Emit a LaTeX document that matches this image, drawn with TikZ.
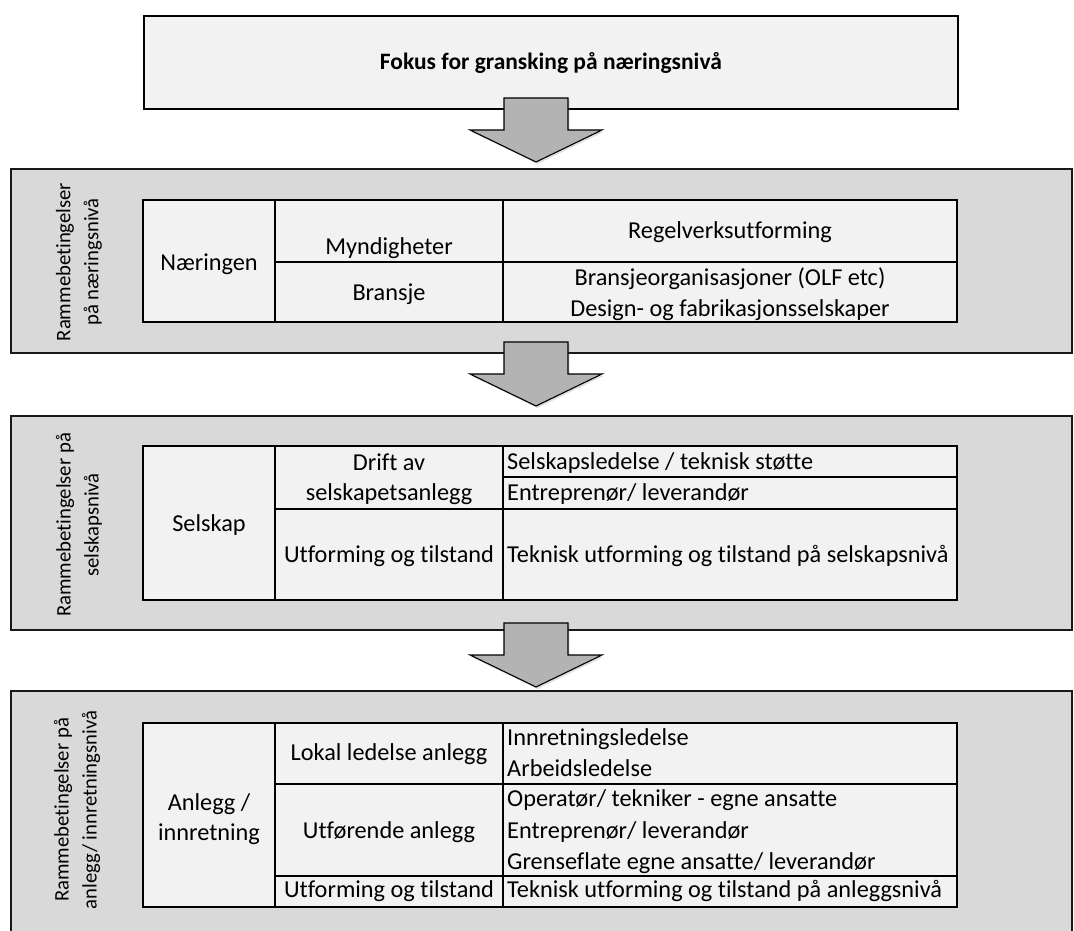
\documentclass[tikz,border=0pt]{standalone}
\usepackage{fontspec}
\setmainfont{Carlito}[Ligatures=NoCommon]
\usetikzlibrary{shadows}
\definecolor{panelgray}{HTML}{D9D9D9}
\definecolor{cellgray}{HTML}{F2F2F2}
\definecolor{arrowgray}{HTML}{B3B3B3}
\begin{document}
\begin{tikzpicture}[x=1pt,y=-1pt,
  panel/.style={fill=panelgray},
  panelline/.style={draw=black!90, line width=1.8pt},
  grid/.style={draw=black, line width=1.8pt},
  cellfill/.style={fill=cellgray},
  txt/.style={inner sep=0pt, anchor=base, font=\fontsize{24.3}{29}\selectfont},
  ltxt/.style={txt, anchor=base west},
  side/.style={inner sep=0pt, rotate=90, align=center, font=\fontsize{20.7}{28}\selectfont},
  downarrow/.pic={
    \path[fill=arrowgray, draw=black, line width=1.1pt,
      drop shadow={opacity=0.25, shadow xshift=1.5pt, shadow yshift=-2pt}]
      (-32,-64) -- (32,-64) -- (32,-32) -- (66,-32) -- (0,0)
      -- (-66,-32) -- (-32,-32) -- cycle;
  }]
\useasboundingbox (0,0) rectangle (1074,931);

% ---- heading box ----
\node[draw=black, line width=1.8pt, fill=cellgray, minimum width=814pt,
  minimum height=93pt, anchor=north west, inner sep=0pt] (head) at (143,15) {};
\node[inner sep=0pt, anchor=base, font=\fontsize{23.5}{28}\selectfont\bfseries]
  (headtxt) at (head.center) [yshift=-7pt] {Fokus for gransking på næringsnivå};

% ---- level 1: industry ----
\fill[panel] (11,169) rectangle (1072,353);
\draw[panelline] (11,169) rectangle (1072,353);
\fill[cellfill] (143,200) rectangle (957,322);
\draw[grid] (143,200) rectangle (957,322);
\draw[grid] (275,200) -- (275,322) (503,200) -- (503,322) (275,262) -- (957,262);
\node[side] (lab1) at (79,262) {Rammebetingelser\\på næringsnivå};
\node[txt] (n1) at (209,270) {Næringen};
\node[txt] (n1a) at (389,254) {Myndigheter};
\node[txt] (n1b) at (389,300) {Bransje};
\node[txt] (n1c) at (730,238) {Regelverksutforming};
\node[txt] (n1d) at (730,285) {Bransjeorganisasjoner (OLF etc)};
\node[txt] (n1e) at (730,316) {Design- og fabrikasjonsselskaper};

% ---- level 2: company ----
\fill[panel] (11,416) rectangle (1072,630);
\draw[panelline] (11,416) rectangle (1072,630);
\fill[cellfill] (143,446) rectangle (957,600);
\draw[grid] (143,446) rectangle (957,600);
\draw[grid] (275,446) -- (275,600) (503,446) -- (503,600)
  (503,477) -- (957,477) (275,509) -- (957,509);
\node[side] (lab2) at (79,525) {Rammebetingelser på\\selskapsnivå};
\node[txt] (n2) at (209,531) {Selskap};
\node[txt] (n2a) at (389,470) {Drift av};
\node[txt] (n2b) at (389,500) {selskapetsanlegg};
\node[txt] (n2c) at (389,562) {Utforming og tilstand};
\node[ltxt] (n2d) at (507,469) {Selskapsledelse / teknisk støtte};
\node[ltxt] (n2e) at (507,500) {Entreprenør/ leverandør};
\node[ltxt] (n2f) at (507,562) {Teknisk utforming og tilstand på selskapsnivå};

% ---- level 3: installation ----
\fill[panel] (11,691) rectangle (1072,940);
\draw[panelline] (11,940) -- (11,691) -- (1072,691) -- (1072,940);
\fill[cellfill] (143,723) rectangle (957,907);
\draw[grid] (143,723) rectangle (957,907);
\draw[grid] (275,723) -- (275,907) (503,723) -- (503,907)
  (275,784) -- (957,784) (275,876) -- (957,876);
\node[side] (lab3) at (77,810) {Rammebetingelser på\\anlegg/ innretningsnivå};
\node[txt] (n3) at (209,810) {Anlegg /};
\node[txt] (n3x) at (209,840) {innretning};
\node[txt] (n3a) at (389,760) {Lokal ledelse anlegg};
\node[txt] (n3b) at (389,838) {Utførende anlegg};
\node[txt] (n3c) at (389,897) {Utforming og tilstand};
\node[ltxt] (n3d) at (507,745) {Innretningsledelse};
\node[ltxt] (n3e) at (507,776) {Arbeidsledelse};
\node[ltxt] (n3f) at (507,806) {Operatør/ tekniker - egne ansatte};
\node[ltxt] (n3g) at (507,838) {Entreprenør/ leverandør};
\node[ltxt] (n3h) at (507,869) {Grenseflate egne ansatte/ leverandør};
\node[ltxt] (n3i) at (507,897) {Teknisk utforming og tilstand på anleggsnivå};

% ---- block arrows between levels ----
\pic at (536,162) {downarrow};
\pic at (536,406) {downarrow};
\pic at (536,687) {downarrow};
\end{tikzpicture}
\end{document}
